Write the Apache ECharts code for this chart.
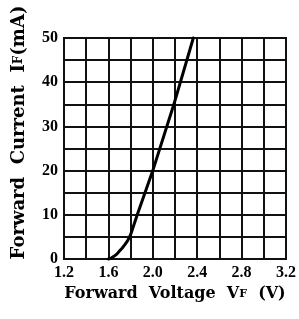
<!DOCTYPE html>
<html>
<head>
<meta charset="utf-8">
<script src="https://cdn.jsdelivr.net/npm/echarts@6/dist/echarts.min.js"></script>
<style>html,body{margin:0;padding:0;background:#fff;}#c{width:299px;height:319px;}</style>
</head>
<body>
<div id="c"></div>
<script>
// Forward voltage (V) and forward current (mA)
var voltage = [1.6, 1.625, 1.65, 1.675, 1.7, 1.725, 1.75, 1.775, 1.8, 1.86, 2.0, 2.19, 2.365];
var current = [0, 0.2, 0.6, 1.1, 1.8, 2.5, 3.3, 4.2, 5.5, 10, 20, 35, 50];
var xTickLabels = ['1.2', '1.6', '2.0', '2.4', '2.8', '3.2'];
var yTickLabels = ['0', '10', '20', '30', '40', '50'];

var pts = voltage.map(function (v, i) { return [v, current[i]]; });
var chart = echarts.init(document.getElementById('c'), null, {renderer: 'canvas'});
var lineStyle = {color: '#111', width: 2};
var labelFont = {color: '#000', fontFamily: 'Liberation Serif', fontWeight: 'bold', fontSize: 16};
chart.setOption({
  animation: false,
  backgroundColor: '#fff',
  grid: {left: 64, top: 38, right: 13, bottom: 60, show: true, borderColor: '#111', borderWidth: 2},
  xAxis: {
    type: 'value', min: 1.2, max: 3.2, interval: 0.2,
    name: 'Forward  Voltage  V{s|F}  (V)', nameLocation: 'middle', nameGap: 24,
    nameTextStyle: {color: '#000', fontFamily: 'DejaVu Serif', fontWeight: 'bold', fontSize: 16,
      rich: {s: {fontFamily: 'DejaVu Serif', fontWeight: 'bold', fontSize: 11, color: '#000'}}},
    axisLine: {show: true, lineStyle: lineStyle},
    axisTick: {show: false},
    splitLine: {show: true, lineStyle: lineStyle},
    axisLabel: Object.assign({margin: 6, formatter: function (v) {
      var s = v.toFixed(1); return xTickLabels.indexOf(s) >= 0 ? s : '';
    }}, labelFont)
  },
  yAxis: {
    type: 'value', min: 0, max: 50, interval: 5,
    name: 'Forward  Current  I{s|F}(mA)', nameLocation: 'middle', nameGap: 36,
    nameTextStyle: {color: '#000', fontFamily: 'DejaVu Serif', fontWeight: 'bold', fontSize: 18,
      padding: [0, 0, 0, 32],
      rich: {s: {fontFamily: 'DejaVu Serif', fontWeight: 'bold', fontSize: 12, color: '#000'}}},
    axisLine: {show: true, lineStyle: lineStyle},
    axisTick: {show: false},
    splitLine: {show: true, lineStyle: lineStyle},
    axisLabel: Object.assign({margin: 6, formatter: function (v) {
      var s = String(Math.round(v)); return yTickLabels.indexOf(s) >= 0 && Math.round(v) % 10 === 0 ? s : '';
    }}, labelFont)
  },
  series: [{
    type: 'line', data: pts, smooth: false, showSymbol: false, symbol: 'none',
    lineStyle: {color: '#000', width: 3, join: 'round', cap: 'round'}, clip: false
  }]
});
</script>
</body>
</html>
